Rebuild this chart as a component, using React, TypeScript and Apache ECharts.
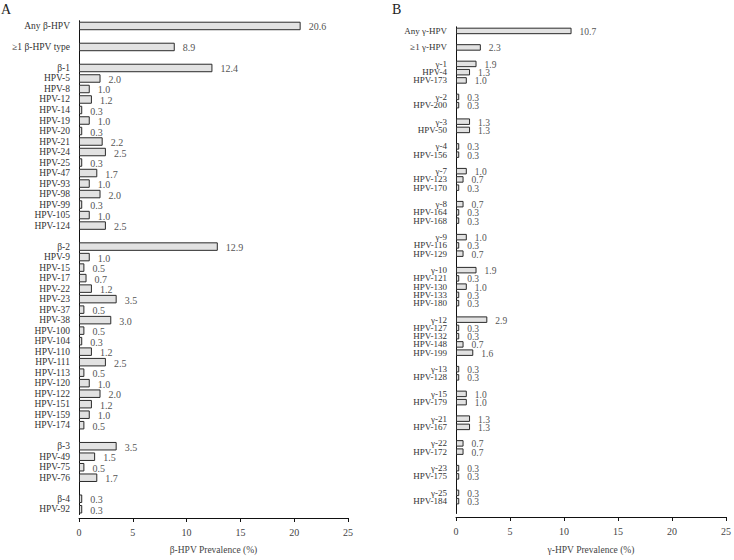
import React, { useEffect, useRef } from "react";
import * as echarts from "echarts";

// Panel A: beta-HPV ('' = spacer row)
const betaLabels = [
  "Any β-HPV", "", "≥1 β-HPV type", "",
  "β-1", "HPV-5", "HPV-8", "HPV-12", "HPV-14", "HPV-19", "HPV-20", "HPV-21", "HPV-24", "HPV-25", "HPV-47", "HPV-93", "HPV-98", "HPV-99", "HPV-105", "HPV-124", "",
  "β-2", "HPV-9", "HPV-15", "HPV-17", "HPV-22", "HPV-23", "HPV-37", "HPV-38", "HPV-100", "HPV-104", "HPV-110", "HPV-111", "HPV-113", "HPV-120", "HPV-122", "HPV-151", "HPV-159", "HPV-174", "",
  "β-3", "HPV-49", "HPV-75", "HPV-76", "",
  "β-4", "HPV-92",
];
const betaValues = [
  20.6, null, 8.9, null,
  12.4, 2.0, 1.0, 1.2, 0.3, 1.0, 0.3, 2.2, 2.5, 0.3, 1.7, 1.0, 2.0, 0.3, 1.0, 2.5, null,
  12.9, 1.0, 0.5, 0.7, 1.2, 3.5, 0.5, 3.0, 0.5, 0.3, 1.2, 2.5, 0.5, 1.0, 2.0, 1.2, 1.0, 0.5, null,
  3.5, 1.5, 0.5, 1.7, null,
  0.3, 0.3,
];

// Panel B: gamma-HPV ('' = spacer row)
const gammaLabels = [
  "Any γ-HPV", "", "≥1 γ-HPV", "",
  "γ-1", "HPV-4", "HPV-173", "",
  "γ-2", "HPV-200", "",
  "γ-3", "HPV-50", "",
  "γ-4", "HPV-156", "",
  "γ-7", "HPV-123", "HPV-170", "",
  "γ-8", "HPV-164", "HPV-168", "",
  "γ-9", "HPV-116", "HPV-129", "",
  "γ-10", "HPV-121", "HPV-130", "HPV-133", "HPV-180", "",
  "γ-12", "HPV-127", "HPV-132", "HPV-148", "HPV-199", "",
  "γ-13", "HPV-128", "",
  "γ-15", "HPV-179", "",
  "γ-21", "HPV-167", "",
  "γ-22", "HPV-172", "",
  "γ-23", "HPV-175", "",
  "γ-25", "HPV-184", "",
];
const gammaValues = [
  10.7, null, 2.3, null,
  1.9, 1.3, 1.0, null,
  0.3, 0.3, null,
  1.3, 1.3, null,
  0.3, 0.3, null,
  1.0, 0.7, 0.3, null,
  0.7, 0.3, 0.3, null,
  1.0, 0.3, 0.7, null,
  1.9, 0.3, 1.0, 0.3, 0.3, null,
  2.9, 0.3, 0.3, 0.7, 1.6, null,
  0.3, 0.3, null,
  1.0, 1.0, null,
  1.3, 1.3, null,
  0.7, 0.7, null,
  0.3, 0.3, null,
  0.3, 0.3, null,
];

const xMin = 0;
const xMax = 25;
const xStep = 5;

const FONT = '"Liberation Serif", "DejaVu Serif", serif';

export default function App() {
  const ref = useRef<HTMLDivElement>(null);
  useEffect(() => {
    if (!ref.current) return;
    const chart = echarts.init(ref.current, undefined, { renderer: "svg" });
    const valueAxis = (gridIndex: number, name: string, offset: number, nameGap: number) => ({
      type: "value" as const,
      gridIndex,
      min: xMin,
      max: xMax,
      interval: xStep,
      offset,
      name,
      nameLocation: "middle" as const,
      nameGap,
      nameTextStyle: { fontFamily: FONT, fontSize: 9.5, color: "#444" },
      axisLine: { show: true, lineStyle: { color: "#111", width: 1 } },
      axisTick: { show: true, inside: false, length: 4, lineStyle: { color: "#111" } },
      axisLabel: { fontFamily: FONT, fontSize: 10, color: "#444", margin: 9 },
      splitLine: { show: false },
    });
    const catAxis = (gridIndex: number, data: string[], fontSize: number) => ({
      type: "category" as const,
      gridIndex,
      data,
      inverse: true,
      axisLine: { show: true, lineStyle: { color: "#111", width: 1 } },
      axisTick: { show: false },
      axisLabel: { interval: 0, fontFamily: FONT, fontSize, color: "#333", margin: 9 },
      splitLine: { show: false },
    });
    const barSeries = (idx: number, data: (number | null)[], barWidth: number, fontSize: number) => ({
      type: "bar" as const,
      xAxisIndex: idx,
      yAxisIndex: idx,
      data: data.map((v) => (v == null ? "-" : v)),
      barWidth,
      itemStyle: { color: "#e2e2e2", borderColor: "#2a2a2a", borderWidth: 1 },
      label: {
        show: true,
        position: "right" as const,
        distance: 8,
        offset: [0, 1],
        fontFamily: FONT,
        fontSize,
        color: "#555",
        formatter: (p: any) => (typeof p.value === "number" ? p.value.toFixed(1) : ""),
      },
    });
    chart.setOption({
      animation: false,
      backgroundColor: "#ffffff",
      grid: [
        { left: 79, top: 20.7, width: 269, height: 494.9, containLabel: false },
        { left: 456, top: 26.8, width: 273, height: 492.6, containLabel: false },
      ],
      xAxis: [
        valueAxis(0, "β-HPV Prevalence (%)", 3.5, 27),
        valueAxis(1, "γ-HPV Prevalence (%)", 3.5, 28),
      ],
      yAxis: [catAxis(0, betaLabels, 9.5), catAxis(1, gammaLabels, 9)],
      series: [barSeries(0, betaValues, 8.5, 10), barSeries(1, gammaValues, 6.5, 9.5)],
      graphic: [
        { type: "text", left: 1, top: 2, style: { text: "A", font: `14px ${FONT}`, fill: "#222" } },
        { type: "text", left: 392, top: 2, style: { text: "B", font: `14px ${FONT}`, fill: "#222" } },
      ],
    });
    return () => chart.dispose();
  }, []);
  return (
    <div
      ref={ref}
      style={{ position: "fixed", left: 0, top: 0, width: 734, height: 560, background: "#fff" }}
    />
  );
}
